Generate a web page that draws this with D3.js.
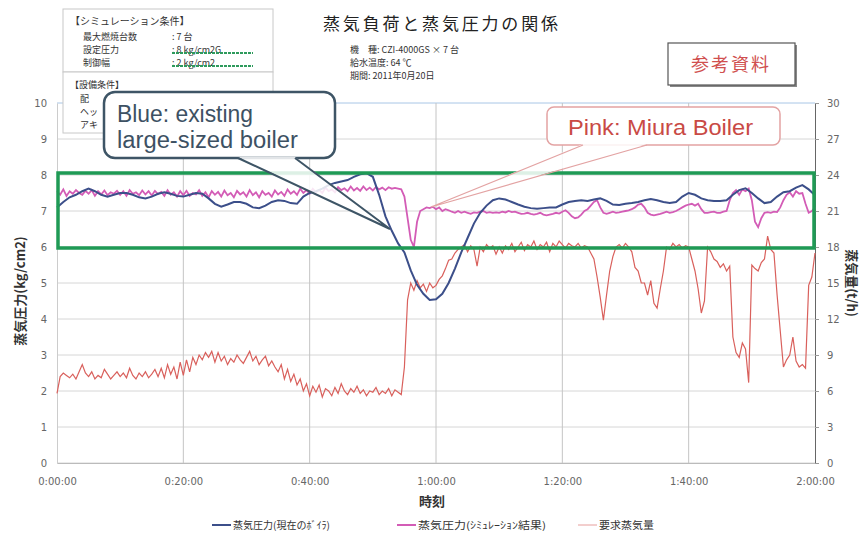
<!DOCTYPE html>
<html>
<head>
<meta charset="utf-8">
<script src="https://cdn.jsdelivr.net/npm/d3@7"></script>
<style>
  body { margin: 0; background: #fff; }
  svg { display: block; font-family: "Noto Sans CJK JP", sans-serif; }
  .tick text { font-family: "DejaVu Sans", sans-serif; font-size: 10px; fill: #666; }
</style>
</head>
<body>
<svg class="chart" width="864" height="534"></svg>
<script>
// chart box
var width = 864;
var height = 534;
var margin = {top: 103, right: 49, bottom: 71, left: 57};

// x ticks (minutes) and labels
var xTicks = [0, 20, 40, 60, 80, 100, 120];
var xTickLabels = ["0:00:00", "0:20:00", "0:40:00", "1:00:00", "1:20:00", "1:40:00", "2:00:00"];
var leftTicks = [0, 1, 2, 3, 4, 5, 6, 7, 8, 9, 10];
var rightTicks = [0, 3, 6, 9, 12, 15, 18, 21, 24, 27, 30];

// steam pressure, current boiler (kg/cm2), one value per minute 0..120
var bluePressure = [
  7.10, 7.25, 7.38, 7.45, 7.55, 7.62, 7.55, 7.45, 7.40, 7.45,
  7.50, 7.50, 7.45, 7.38, 7.35, 7.40, 7.48, 7.52, 7.48, 7.42,
  7.40, 7.45, 7.50, 7.48, 7.35, 7.20, 7.12, 7.18, 7.25, 7.25,
  7.20, 7.10, 7.08, 7.15, 7.25, 7.30, 7.28, 7.22, 7.20, 7.40,
  7.50, 7.55, 7.62, 7.72, 7.78, 7.82, 7.86, 7.95, 8.02, 8.05,
  7.95, 7.45, 6.85, 6.45, 6.10, 5.85, 5.35, 4.95, 4.70, 4.53,
  4.55, 4.70, 5.00, 5.40, 5.85, 6.25, 6.65, 6.95, 7.15, 7.30,
  7.35, 7.32, 7.25, 7.18, 7.12, 7.08, 7.06, 7.08, 7.10, 7.10,
  7.18, 7.25, 7.28, 7.30, 7.28, 7.32, 7.35, 7.28, 7.18, 7.17,
  7.20, 7.22, 7.25, 7.30, 7.33, 7.30, 7.25, 7.22, 7.25, 7.40,
  7.50, 7.45, 7.35, 7.30, 7.28, 7.28, 7.30, 7.45, 7.58, 7.63,
  7.50, 7.35, 7.22, 7.25, 7.40, 7.52, 7.55, 7.65, 7.72, 7.60,
  7.44
];

// steam pressure, simulation result (kg/cm2), one value per half minute 0..120
var pinkPressure = [
  7.55, 7.45, 7.60, 7.42, 7.55, 7.48, 7.58, 7.50, 7.45, 7.56,
  7.48, 7.58, 7.42, 7.55, 7.46, 7.57, 7.44, 7.52, 7.48, 7.56,
  7.45, 7.55, 7.42, 7.58, 7.48, 7.52, 7.44, 7.57, 7.46, 7.55,
  7.43, 7.56, 7.47, 7.53, 7.42, 7.58, 7.45, 7.52, 7.40, 7.55,
  7.44, 7.56, 7.42, 7.50, 7.46, 7.58, 7.42, 7.52, 7.38, 7.55,
  7.45, 7.53, 7.40, 7.57, 7.44, 7.50, 7.38, 7.56, 7.46, 7.52,
  7.40, 7.58, 7.44, 7.52, 7.38, 7.55, 7.45, 7.50, 7.40, 7.57,
  7.46, 7.53, 7.42, 7.60, 7.48, 7.55, 7.45, 7.62, 7.50, 7.58,
  7.48, 7.62, 7.52, 7.58, 7.50, 7.65, 7.55, 7.60, 7.52, 7.66,
  7.58, 7.63, 7.55, 7.68, 7.57, 7.64, 7.56, 7.68, 7.58, 7.65,
  7.57, 7.67, 7.60, 7.65, 7.58, 7.66, 7.62, 7.64, 7.62, 7.60,
  7.40, 6.80, 6.20, 6.00, 6.70, 7.00, 7.05, 7.10, 7.08, 7.12,
  7.05, 7.10, 7.00, 7.05, 7.02, 6.98, 6.95, 7.00, 6.95, 6.98,
  6.95, 6.92, 6.96, 6.95, 6.98, 7.00, 6.95, 6.97, 6.95, 6.96,
  6.95, 6.98, 6.96, 7.00, 6.97, 6.98, 6.95, 6.92, 6.93, 6.95,
  6.92, 6.90, 6.92, 6.95, 6.90, 6.88, 6.90, 6.92, 6.95, 6.93,
  6.98, 7.02, 6.95, 6.85, 6.80, 6.82, 6.90, 7.00, 7.05, 7.15,
  7.25, 7.30, 7.10, 6.95, 6.92, 6.95, 6.98, 6.95, 6.96, 6.98,
  7.00, 7.02, 7.05, 7.10, 7.18, 7.20, 7.10, 6.95, 6.90, 6.88,
  6.90, 6.92, 6.95, 6.98, 6.95, 6.97, 7.00, 7.05, 7.10, 7.15,
  7.18, 7.20, 7.15, 7.20, 7.05, 6.95, 6.95, 6.97, 6.98, 6.95,
  6.95, 6.98, 7.00, 7.30, 7.50, 7.58, 7.45, 7.60, 7.55, 7.62,
  7.30, 6.70, 6.55, 6.80, 6.95, 6.97, 6.95, 6.98, 6.97, 7.10,
  7.30, 7.45, 7.52, 7.40, 7.55, 7.48, 7.50, 7.20, 6.95, 7.00,
  7.10
];

// demanded steam (t/h), one value per half minute 0..120
var steamDemand = [
  5.8, 7.2, 7.5, 7.3, 7.1, 7.4, 7.0, 7.6, 8.2, 7.5,
  7.2, 7.6, 7.0, 7.3, 7.1, 7.8, 7.4, 7.0, 7.3, 7.6,
  7.2, 7.5, 7.1, 7.9, 7.3, 7.0, 7.5, 7.2, 7.6, 7.1,
  7.4, 7.8, 7.2, 7.9, 7.1, 8.2, 7.4, 8.0, 7.0, 8.4,
  7.3, 8.6, 7.6, 8.8, 8.2, 9.0, 8.6, 9.2, 8.8, 9.3,
  8.4, 9.2, 8.5, 8.9, 8.2, 8.7, 8.4, 9.0, 8.6, 8.3,
  8.8, 9.3, 8.5, 8.9, 8.2, 8.6, 8.9, 8.1, 8.5, 8.0,
  7.6, 8.2, 7.0, 7.8, 6.8, 7.4, 6.5, 7.0, 6.0, 6.6,
  5.6, 6.4, 5.9, 6.5, 5.5, 6.2, 6.0, 5.6, 6.3, 5.8,
  6.6, 6.0, 5.7, 6.2, 5.9, 6.4, 5.8, 6.1, 5.6, 6.0,
  5.9, 6.3, 5.7, 6.0, 5.8, 6.2, 5.6, 6.1, 5.9, 5.7,
  8.0, 13.6, 15.0, 14.4, 15.2, 14.6, 14.9, 14.3, 15.0, 14.6,
  14.8, 15.3, 15.6, 16.2, 16.9, 17.0, 17.5, 17.8, 18.0, 18.2,
  17.6, 18.1, 17.8, 16.4, 18.0, 17.6, 18.2, 17.9, 18.1, 17.4,
  18.0, 17.5, 18.1, 17.8, 18.3, 17.6, 18.0, 18.4, 17.7, 18.2,
  18.0, 18.5, 17.8, 18.2, 18.0, 18.4, 17.6, 18.3, 18.0, 18.5,
  18.2, 17.9, 18.3, 18.1, 18.0, 18.3, 17.9, 18.1, 18.0, 17.5,
  17.0, 15.5, 13.8, 11.9, 14.0, 16.0, 17.2, 18.0, 18.2, 17.9,
  18.3, 18.0, 17.6, 16.3, 16.0, 15.0, 15.0, 14.0, 15.2, 13.3,
  12.9, 14.5, 16.0, 18.0, 17.8, 18.3, 18.0, 18.2, 17.9, 18.1,
  18.0, 17.0, 16.0, 14.5, 12.5, 13.5, 18.0, 17.6, 17.0, 16.8,
  16.3, 16.6, 16.0, 16.4, 10.5, 9.2, 8.8, 10.0, 9.5, 6.7,
  16.5, 16.2, 16.0, 16.7, 17.0, 18.9, 17.8, 17.5, 14.0, 11.0,
  8.0, 8.6, 9.0, 10.5, 8.5, 8.0, 8.2, 7.9, 14.8, 15.5,
  17.5
];

var legendNames = ["蒸気圧力(現在のﾎﾞｲﾗ)", "蒸気圧力(ｼﾐｭﾚｰｼｮﾝ結果)", "要求蒸気量"];
var seriesColors = ["#3c4f8a", "#d35cb6", "#d9605c"];

var svg = d3.select(".chart");

var x = d3.scaleLinear().domain([0, 120]).range([margin.left, width - margin.right]);
var yL = d3.scaleLinear().domain([0, 10]).range([height - margin.bottom, margin.top]);
var yR = d3.scaleLinear().domain([0, 30]).range([height - margin.bottom, margin.top]);

// grid
svg.append("g").selectAll("line").data(leftTicks).enter().append("line")
    .attr("x1", x(0)).attr("x2", x(120))
    .attr("y1", function(d) { return yL(d); })
    .attr("y2", function(d) { return yL(d); })
    .attr("stroke", function(d) { return d === 10 ? "#a8c6e6" : "#d6d6d6"; })
    .attr("stroke-width", 1);

svg.append("g").selectAll("line").data(xTicks.slice(1, 6)).enter().append("line")
    .attr("x1", function(d) { return x(d); })
    .attr("x2", function(d) { return x(d); })
    .attr("y1", yL(10)).attr("y2", yL(0))
    .attr("stroke", "#c4c4c4")
    .attr("stroke-width", 1);

// axes
var xAxis = d3.axisBottom(x).tickValues(xTicks).tickSize(0).tickPadding(15)
    .tickFormat(function(d, i) { return xTickLabels[i]; });
svg.append("g").attr("transform", "translate(0," + yL(0) + ")").call(xAxis)
    .select(".domain").attr("stroke", "#bbb");

var yAxisL = d3.axisLeft(yL).tickValues(leftTicks).tickSize(0).tickPadding(10);
svg.append("g").attr("transform", "translate(" + x(0) + ",0)").call(yAxisL)
    .select(".domain").attr("stroke", "#ccc");

var yAxisR = d3.axisRight(yR).tickValues(rightTicks).tickSize(4).tickPadding(8);
var gR = svg.append("g").attr("transform", "translate(" + x(120) + ",0)").call(yAxisR);
gR.select(".domain").attr("stroke", "#666");
gR.selectAll(".tick line").attr("stroke", "#999");

// series
var lineL = function(step) {
    return d3.line()
        .x(function(d, i) { return x(i * step); })
        .y(function(d) { return yL(d); });
};
var lineR = d3.line()
    .x(function(d, i) { return x(i * 0.5); })
    .y(function(d) { return yR(d); });

svg.append("path").datum(steamDemand)
    .attr("d", lineR).attr("fill", "none")
    .attr("stroke", seriesColors[2]).attr("stroke-width", 1.2);

svg.append("path").datum(pinkPressure)
    .attr("d", lineL(0.5)).attr("fill", "none")
    .attr("stroke", seriesColors[1]).attr("stroke-width", 1.8);

svg.append("path").datum(bluePressure)
    .attr("d", lineL(1)).attr("fill", "none")
    .attr("stroke", seriesColors[0]).attr("stroke-width", 2);

// green band 6..8
svg.append("rect")
    .attr("x", x(0) + 1).attr("y", yL(8) - 2)
    .attr("width", x(120) - x(0) - 2).attr("height", yL(6) - yL(8) + 3)
    .attr("fill", "none").attr("stroke", "#1f9a55").attr("stroke-width", 3.5);

// axis titles
svg.append("text")
    .attr("transform", "translate(25," + 291 + ") rotate(-90)")
    .attr("text-anchor", "middle").attr("font-size", 13).attr("font-weight", "bold").attr("fill", "#333")
    .text("蒸気圧力(kg/cm2)");
svg.append("text")
    .attr("transform", "translate(847," + 283 + ") rotate(90)")
    .attr("text-anchor", "middle").attr("font-size", 13).attr("font-weight", "bold").attr("fill", "#333")
    .text("蒸気量(t/h)");
svg.append("text")
    .attr("x", 432).attr("y", 506)
    .attr("text-anchor", "middle").attr("font-size", 13).attr("font-weight", "bold").attr("fill", "#333")
    .text("時刻");

// legend
var legendX = [212, 397, 578];
var legendLen = [97, 128, 55];
var legend = svg.append("g").selectAll("g").data(legendNames).enter().append("g")
    .attr("transform", function(d, i) { return "translate(" + legendX[i] + ",525)"; });
legend.append("line").attr("x1", 0).attr("x2", 19).attr("y1", 0).attr("y2", 0)
    .attr("stroke", function(d, i) { return seriesColors[i]; })
    .attr("stroke-width", function(d, i) { return i === 2 ? 1 : 2; })
    .attr("opacity", function(d, i) { return i === 2 ? 0.6 : 1; });
legend.append("text").attr("x", 21).attr("y", 4)
    .attr("font-size", 10).attr("fill", "#333")
    .attr("textLength", function(d, i) { return legendLen[i]; })
    .attr("lengthAdjust", "spacingAndGlyphs")
    .text(function(d) { return d; });

// title block
svg.append("text")
    .attr("x", 323).attr("y", 30)
    .attr("font-size", 17).attr("fill", "#222")
    .attr("textLength", 235).attr("lengthAdjust", "spacing")
    .text("蒸気負荷と蒸気圧力の関係");
var subLines = ["機　種: CZI-4000GS × 7 台", "給水温度: 64 ℃", "期間: 2011年0月20日"];
svg.append("g").selectAll("text").data(subLines).enter().append("text")
    .attr("x", 350).attr("y", function(d, i) { return 53 + i * 13; })
    .attr("font-size", 9).attr("fill", "#333")
    .text(function(d) { return d; });

// reference stamp
svg.append("rect").attr("x", 670).attr("y", 45).attr("width", 127).attr("height", 42)
    .attr("fill", "#888");
svg.append("rect").attr("x", 668).attr("y", 43).attr("width", 127).attr("height", 42)
    .attr("fill", "#fff").attr("stroke", "#555").attr("stroke-width", 1.2);
svg.append("text").attr("x", 731).attr("y", 71).attr("text-anchor", "middle")
    .attr("font-size", 18).attr("fill", "#d0504f").attr("letter-spacing", 2)
    .text("参考資料");

// simulation condition box
var info = svg.append("g").attr("font-size", 9).attr("fill", "#333");
info.append("rect").attr("x", 63).attr("y", 9).attr("width", 210).attr("height", 63)
    .attr("fill", "#fff").attr("stroke", "#c8c8c8");
info.append("rect").attr("x", 63).attr("y", 72).attr("width", 210).attr("height", 61)
    .attr("fill", "#fff").attr("stroke", "#c8c8c8");
var infoLabels = ["最大燃焼台数", "設定圧力", "制御幅"];
var infoValues = [":  7 台", ":  8 kg/cm2G", ":  2 kg/cm2"];
info.append("text").attr("x", 70).attr("y", 25).attr("font-size", 10).text("【シミュレーション条件】");
info.selectAll(".lab").data(infoLabels).enter().append("text")
    .attr("x", 83).attr("y", function(d, i) { return 40 + i * 13; })
    .text(function(d) { return d; });
info.selectAll(".val").data(infoValues).enter().append("text")
    .attr("x", 172).attr("y", function(d, i) { return 40 + i * 13; })
    .text(function(d) { return d; });
[53, 66].forEach(function(yy) {
    info.append("line").attr("x1", 172).attr("x2", 253).attr("y1", yy).attr("y2", yy)
        .attr("stroke", "#2e9a5c").attr("stroke-width", 2).attr("stroke-dasharray", "3,1");
});
info.append("text").attr("x", 70).attr("y", 88).text("【設備条件】");
["配", "ヘッ", "アキ"].forEach(function(t, i) {
    info.append("text").attr("x", 80).attr("y", 102 + i * 13).text(t);
});

// callouts
function callout(box, tip, base, stroke, textColor, lines, lineY, fontSize, lens) {
    var g = svg.append("g");
    g.append("rect").attr("x", box.x).attr("y", box.y).attr("width", box.w).attr("height", box.h)
        .attr("rx", box.r).attr("fill", "#fff").attr("stroke", stroke).attr("stroke-width", box.sw);
    g.append("path")
        .attr("d", "M" + base[0] + "," + (box.y + box.h - 1) + "L" + tip[0] + "," + tip[1] + "L" + base[1] + "," + (box.y + box.h - 1) + "Z")
        .attr("fill", "#fff").attr("fill-opacity", 0.85).attr("stroke", "none");
    g.append("path")
        .attr("d", "M" + base[0] + "," + (box.y + box.h) + "L" + tip[0] + "," + tip[1] + "L" + base[1] + "," + (box.y + box.h))
        .attr("fill", "none").attr("stroke", stroke).attr("stroke-width", box.sw * 0.8);
    lines.forEach(function(t, i) {
        g.append("text").attr("x", box.x + box.pad).attr("y", lineY[i])
            .attr("font-family", "'Liberation Sans', Arial, sans-serif")
            .attr("font-size", fontSize).attr("fill", textColor)
            .attr("textLength", lens[i]).attr("lengthAdjust", "spacingAndGlyphs")
            .text(t);
    });
}

callout({x: 104, y: 92, w: 231, h: 66, r: 11, sw: 2.5, pad: 13}, [390, 229], [238, 295],
    "#3e5566", "#3d5163", ["Blue: existing", "large-sized boiler"], [122, 148], 23, [136, 181]);
callout({x: 547, y: 107, w: 233, h: 38, r: 7, sw: 1.5, pad: 21}, [431, 207], [583, 647],
    "#e3a3a3", "#c94a45", ["Pink: Miura Boiler"], [135], 22, [185]);
</script>
</body>
</html>
